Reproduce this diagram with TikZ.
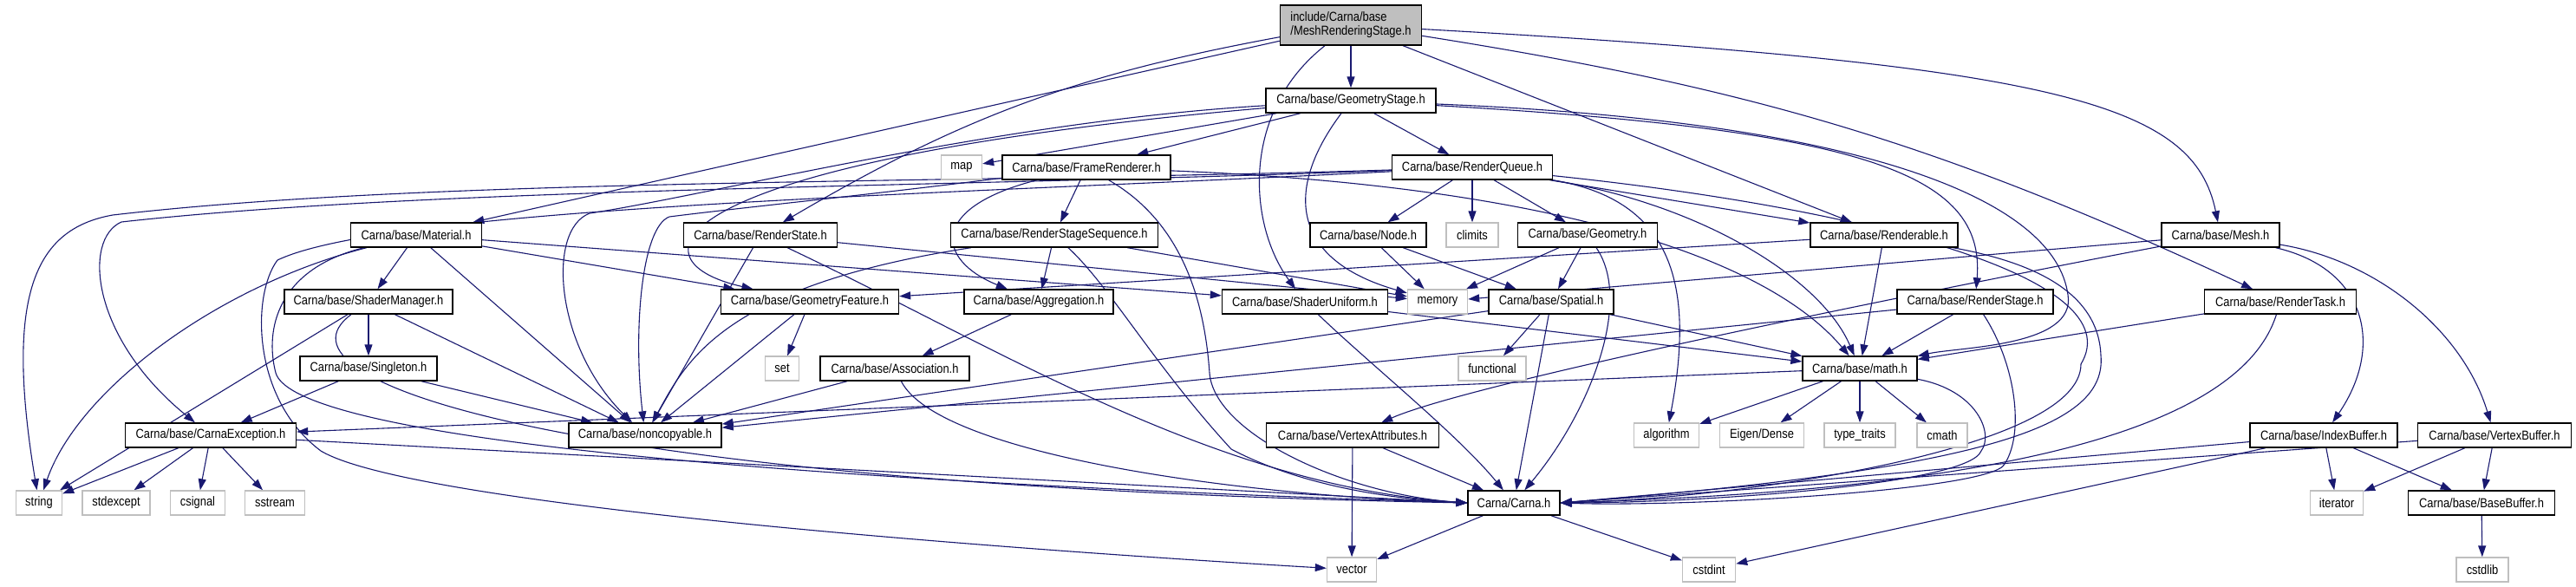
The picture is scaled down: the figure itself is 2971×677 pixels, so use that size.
\documentclass[tikz,border=0pt]{standalone}
\usepackage{fontspec}
\newfontfamily\nf[FakeStretch=0.86]{Liberation Sans}
\usetikzlibrary{arrows.meta}
\definecolor{edgec}{HTML}{191970}
\definecolor{extc}{HTML}{BFBFBF}
\pgfdeclarelayer{bg}
\pgfdeclarelayer{edges}
\pgfsetlayers{bg,edges,main}
\begin{document}
\begin{tikzpicture}[x=1pt,y=-1pt,
  box/.style={rectangle, minimum height=28pt, inner sep=0pt, fill=white,
    font=\nf\fontsize{15pt}{16pt}\selectfont},
  doc/.style={box, draw=black, line width=1.4pt},
  ext/.style={box, draw=extc, line width=1.4pt},
  dep/.style={draw=edgec, line width=1.1pt, -{Triangle[length=13pt,width=9pt]}}
]
\begin{pgfonlayer}{bg}
\fill[white] (0,0) rectangle (2971,677);
\end{pgfonlayer}
\useasboundingbox (0,0) rectangle (2971,677);

% row 0
\node[doc, fill=extc, minimum width=163pt, minimum height=46pt, align=left] (mrs) at (1558,29) {include/Carna/base\\/MeshRenderingStage.h};
% row 1
\node[doc, minimum width=196pt] (gstage) at (1558,116) {Carna/base/GeometryStage.h};
% row 2
\node[ext, minimum width=47pt] (map) at (1109,193) {map};
\node[doc, minimum width=194pt] (frend) at (1253,193) {Carna/base/FrameRenderer.h};
\node[doc, minimum width=185pt] (rqueue) at (1698,193) {Carna/base/RenderQueue.h};
% row 3
\node[doc, minimum width=151pt] (material) at (480,271) {Carna/base/Material.h};
\node[doc, minimum width=177pt] (rstate) at (877,271) {Carna/base/RenderState.h};
\node[doc, minimum width=239pt] (rss) at (1216,271) {Carna/base/RenderStageSequence.h};
\node[doc, minimum width=134pt] (node) at (1578,271) {Carna/base/Node.h};
\node[ext, minimum width=60pt] (climits) at (1698,271) {climits};
\node[doc, minimum width=161pt] (geometry) at (1831,271) {Carna/base/Geometry.h};
\node[doc, minimum width=170pt] (renderable) at (2173,271) {Carna/base/Renderable.h};
\node[doc, minimum width=136pt] (mesh) at (2561,271) {Carna/base/Mesh.h};
% row 4
\node[doc, minimum width=194pt] (smanager) at (425,348) {Carna/base/ShaderManager.h};
\node[doc, minimum width=205pt] (gfeature) at (934,348) {Carna/base/GeometryFeature.h};
\node[doc, minimum width=172pt] (aggregation) at (1198,348) {Carna/base/Aggregation.h};
\node[doc, minimum width=191pt] (suniform) at (1505,348) {Carna/base/ShaderUniform.h};
\node[ext, minimum width=69pt] (memory) at (1658,348) {memory};
\node[doc, minimum width=144pt] (spatial) at (1789,348) {Carna/base/Spatial.h};
\node[doc, minimum width=180pt] (rstage) at (2278,348) {Carna/base/RenderStage.h};
\node[doc, minimum width=175pt] (rtask) at (2630,348) {Carna/base/RenderTask.h};
% row 5
\node[doc, minimum width=158pt] (singleton) at (425,425) {Carna/base/Singleton.h};
\node[ext, minimum width=39pt] (set) at (902,425) {set};
\node[doc, minimum width=172pt] (association) at (1032,425) {Carna/base/Association.h};
\node[ext, minimum width=78pt] (functional) at (1721,425) {functional};
\node[doc, minimum width=132pt] (math) at (2145,425) {Carna/base/math.h};
% row 6
\node[doc, minimum width=197pt] (cexc) at (243,502) {Carna/base/CarnaException.h};
\node[doc, minimum width=176pt] (noncopy) at (744,502) {Carna/base/noncopyable.h};
\node[doc, minimum width=199pt] (vattr) at (1560,502) {Carna/base/VertexAttributes.h};
\node[ext, minimum width=75pt] (algorithm) at (1922,502) {algorithm};
\node[ext, minimum width=97pt] (eigen) at (2032,502) {Eigen/Dense};
\node[ext, minimum width=82pt] (typetraits) at (2145,502) {type\_traits};
\node[ext, minimum width=58pt] (cmath) at (2240,502) {cmath};
\node[doc, minimum width=170pt] (ibuffer) at (2680,502) {Carna/base/IndexBuffer.h};
\node[doc, minimum width=177pt] (vbuffer) at (2877,502) {Carna/base/VertexBuffer.h};
% row 7
\node[ext, minimum width=53pt] (string) at (45,580) {string};
\node[ext, minimum width=78pt] (stdexcept) at (134,580) {stdexcept};
\node[ext, minimum width=63pt] (csignal) at (228,580) {csignal};
\node[ext, minimum width=69pt] (sstream) at (317,580) {sstream};
\node[doc, minimum width=106pt] (carna) at (1746,580) {Carna/Carna.h};
\node[ext, minimum width=61pt] (iterator) at (2695,580) {iterator};
\node[doc, minimum width=169pt] (bbuffer) at (2862,580) {Carna/base/BaseBuffer.h};
% row 8
\node[ext, minimum width=57pt] (vector) at (1559,657) {vector};
\node[ext, minimum width=61pt] (cstdint) at (1971,657) {cstdint};
\node[ext, minimum width=60pt] (cstdlib) at (2863,657) {cstdlib};

% bend points of long connectors
\coordinate (sA) at (130,248);
\coordinate (cA) at (140,256);
\coordinate (vA) at (320,300);
\coordinate (vB) at (370,520);
\coordinate (mB) at (318,430);
\coordinate (gA) at (680,246);
\coordinate (fA) at (772,250);
\coordinate (gM) at (2385,340);
\coordinate (qA) at (2400,420);
\coordinate (mC) at (2285,520);
\coordinate (rC) at (2312,535);
\coordinate (rB) at (2423,410);
\coordinate (fB) at (1395,430);
\coordinate (sB) at (1420,518);

\begin{pgfonlayer}{edges}
% MeshRenderingStage.h
\draw[dep] (mrs) -- (gstage);
\draw[dep] (mrs) -- (material);
\draw[dep] (mrs) to[bend right=10] (rstate);
\draw[dep] (mrs) .. controls (1430,130) and (1440,260) .. (suniform);
\draw[dep] (mrs) -- (renderable);
\draw[dep] (mrs) to[bend left=8] (rtask);
\draw[dep] (mrs) .. controls (2380,75) and (2530,120) .. (mesh);

% GeometryStage.h
\draw[dep] (gstage) -- (map);
\draw[dep] (gstage) -- (frend);
\draw[dep] (gstage) -- (rqueue);
\draw[dep] (gstage) .. controls (760,185) and (720,300) .. (gfeature);
\draw[dep] (gstage) .. controls (1480,220) and (1490,300) .. (memory);
\draw[dep] (gstage) .. controls (2150,150) and (2290,200) .. (rstage);
\draw[dep] (gstage) .. controls (2150,140) and (2370,230) .. (gM) .. controls (2395,400) and (2260,400) .. (math);
\draw[dep] (gstage) .. controls (1150,140) and (820,225) .. (gA) .. controls (630,265) and (640,400) .. (noncopy);

% FrameRenderer.h
\draw[dep] (frend) -- (rss);
\draw[dep] (frend) .. controls (1070,240) and (1080,300) .. (aggregation);
\draw[dep] (frend) .. controls (1370,260) and (1390,360) .. (fB) .. controls (1400,500) and (1550,570) .. (carna.west);
\draw[dep] (frend) .. controls (1800,215) and (2040,300) .. (math);
\draw[dep] (frend) .. controls (1000,225) and (850,240) .. (fA) .. controls (740,262) and (730,380) .. (noncopy);

% RenderQueue.h
\draw[dep] (rqueue) -- (node);
\draw[dep] (rqueue) -- (climits);
\draw[dep] (rqueue) -- (geometry);
\draw[dep] (rqueue) -- (renderable);
\draw[dep] (rqueue) .. controls (1930,230) and (1955,330) .. (algorithm);
\draw[dep] (rqueue) .. controls (1960,235) and (2100,320) .. (math);
\draw[dep] (rqueue) .. controls (2150,240) and (2460,320) .. (qA) .. controls (2400,520) and (2000,575) .. (carna.east);
\draw[dep] (rqueue) .. controls (1100,212) and (500,205) .. (sA) .. controls (40,264) and (5,340) .. (string);
\draw[dep] (rqueue) .. controls (1100,216) and (500,216) .. (cA) .. controls (95,276) and (105,390) .. (cexc);
\draw[dep] (rqueue) .. controls (1100,224) and (450,238) .. (vA) .. controls (290,340) and (290,460) .. (vB) .. controls (470,580) and (1100,630) .. (vector);

% Material.h
\draw[dep] (material) -- (smanager);
\draw[dep] (material) .. controls (250,330) and (90,450) .. (string);
\draw[dep] (material) -- (noncopy);
\draw[dep] (material) -- (gfeature);
\draw[dep] (material) -- (suniform);
\draw[dep] (material) .. controls (320,310) and (305,380) .. (mB) .. controls (335,490) and (700,548) .. (carna.west);

% RenderState.h
\draw[dep] (rstate) -- (noncopy);
\draw[dep] (rstate) .. controls (1150,400) and (1400,560) .. (carna.west);
\draw[dep] (rstate) -- (memory);

% RenderStageSequence.h
\draw[dep] (rss) -- (aggregation);
\draw[dep] (rss) -- (memory);
\draw[dep] (rss) .. controls (1280,330) and (1330,420) .. (sB) .. controls (1500,560) and (1600,575) .. (carna.west);
\draw[dep] (rss) .. controls (830,330) and (790,420) .. (noncopy);

% Node.h, Geometry.h
\draw[dep] (node) -- (memory);
\draw[dep] (node) -- (spatial);
\draw[dep] (geometry) -- (memory);
\draw[dep] (geometry) -- (spatial);
\draw[dep] (geometry) .. controls (1885,350) and (1830,480) .. (carna);

% Renderable.h
\draw[dep] (renderable) -- (gfeature);
\draw[dep] (renderable) -- (math);
\draw[dep] (renderable) .. controls (2330,300) and (2420,330) .. (rB) .. controls (2430,490) and (2300,540) .. (carna.east);

% Mesh.h
\draw[dep] (mesh) -- (memory);
\draw[dep] (mesh) .. controls (2250,330) and (1700,440) .. (vattr);
\draw[dep] (mesh) .. controls (2730,310) and (2750,400) .. (ibuffer);
\draw[dep] (mesh) .. controls (2740,300) and (2840,380) .. (vbuffer);

% ShaderManager.h
\draw[dep] (smanager) -- (singleton);
\draw[dep] (smanager) -- (string);
\draw[dep] (smanager) -- (noncopy);
\draw[dep] (smanager) .. controls (300,440) and (650,560) .. (carna.west);

% GeometryFeature.h, Aggregation.h, Association.h
\draw[dep] (gfeature) -- (set);
\draw[dep] (gfeature) -- (noncopy);
\draw[dep] (aggregation) -- (association);
\draw[dep] (association) -- (noncopy);
\draw[dep] (association) .. controls (1080,520) and (1400,570) .. (carna.west);

% ShaderUniform.h, Spatial.h
\draw[dep] (suniform) -- (math);
\draw[dep] (suniform) .. controls (1580,420) and (1680,500) .. (carna);
\draw[dep] (spatial) -- (functional);
\draw[dep] (spatial) -- (carna);
\draw[dep] (spatial) -- (math);
\draw[dep] (spatial) -- (noncopy);

% RenderStage.h, RenderTask.h
\draw[dep] (rstage) -- (math);
\draw[dep] (rstage) .. controls (2325,420) and (2335,500) .. (rC) .. controls (2300,565) and (1950,585) .. (carna.east);
\draw[dep] (rstage) -- (noncopy);
\draw[dep] (rtask) -- (math);
\draw[dep] (rtask) .. controls (2570,540) and (2100,570) .. (carna.east);

% Singleton.h, CarnaException.h
\draw[dep] (singleton) -- (cexc);
\draw[dep] (singleton) -- (noncopy);
\draw[dep] (cexc) -- (string);
\draw[dep] (cexc) -- (stdexcept);
\draw[dep] (cexc) -- (csignal);
\draw[dep] (cexc) -- (sstream);
\draw[dep] (cexc) -- (carna.west);

% math.h
\draw[dep] (math) -- (algorithm);
\draw[dep] (math) -- (eigen);
\draw[dep] (math) -- (typetraits);
\draw[dep] (math) -- (cmath);
\draw[dep] (math) .. controls (2280,450) and (2300,500) .. (mC) .. controls (2270,560) and (1950,580) .. (carna.east);
\draw[dep] (math) -- (cexc);

% VertexAttributes.h
\draw[dep] (vattr) -- (vector);
\draw[dep] (vattr) -- (carna);

% buffers
\draw[dep] (ibuffer) -- (carna.east);
\draw[dep] (ibuffer) -- (cstdint);
\draw[dep] (ibuffer) -- (iterator);
\draw[dep] (ibuffer) -- (bbuffer);
\draw[dep] (vbuffer) -- (carna.east);
\draw[dep] (vbuffer) -- (iterator);
\draw[dep] (vbuffer) -- (bbuffer);
\draw[dep] (bbuffer) -- (cstdlib);

% Carna.h
\draw[dep] (carna) -- (vector);
\draw[dep] (carna) -- (cstdint);
\end{pgfonlayer}
\end{tikzpicture}
\end{document}
